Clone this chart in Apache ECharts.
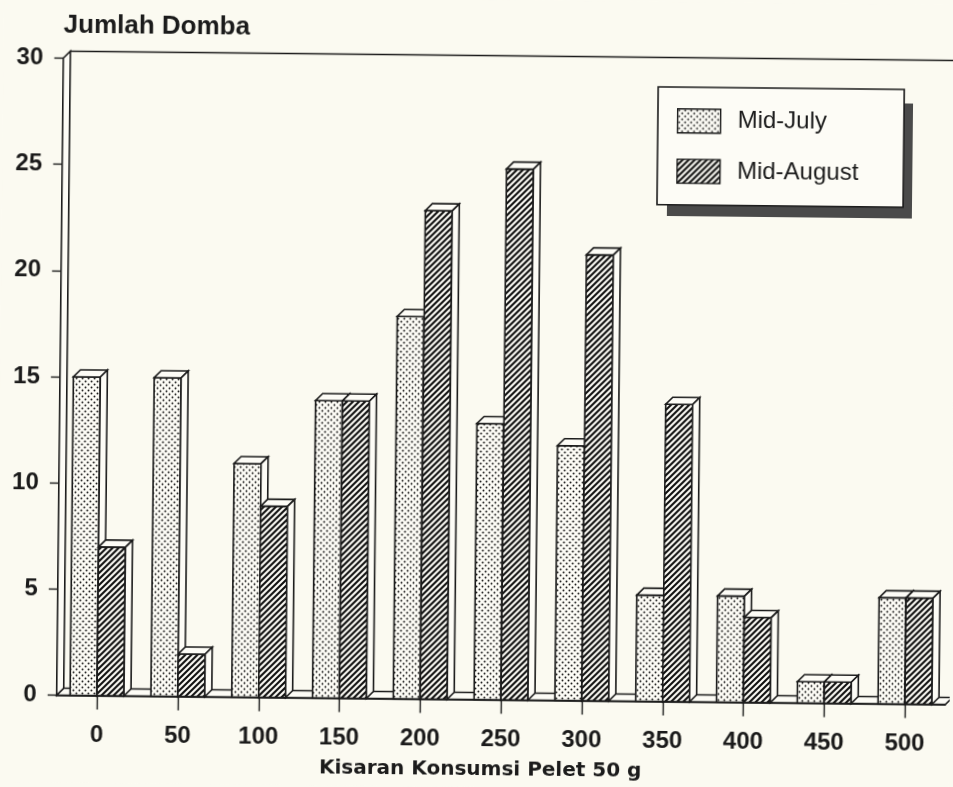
<!DOCTYPE html>
<html>
<head>
<meta charset="utf-8">
<script src="https://cdn.jsdelivr.net/npm/echarts@6/dist/echarts.min.js"></script>
<style>
  html, body { margin: 0; padding: 0; background: #fbfaf1; overflow: hidden; }
  #chart { width: 953px; height: 787px; transform: rotate(0.6deg); transform-origin: 50% 50%; }
</style>
</head>
<body>
<div id="chart"></div>
<script>
// Intake classes (g of pellet) and number of sheep per class
const categories = ['0', '50', '100', '150', '200', '250', '300', '350', '400', '450', '500'];
const midJuly    = [15, 15, 11, 14, 18, 13, 12, 5, 5, 1, 5];
const midAugust  = [7, 2, 9, 14, 23, 25, 21, 14, 4, 1, 5];
const seriesNames = ['Mid-July', 'Mid-August'];
const yAxisTitle = 'Jumlah Domba';
const xAxisTitle = 'Kisaran Konsumsi Pelet 50 g';

const INK = '#1b1b1b';
const PAPER = '#fdfcf6';
const LW = 1.6;
const DX = 7, DY = 7;           // depth offset of the pseudo-3D faces
const FONT = 'Liberation Sans';

// Stippled fill
function dotPattern() {
  const c = document.createElement('canvas');
  c.width = 6; c.height = 6;
  const g = c.getContext('2d');
  g.fillStyle = PAPER; g.fillRect(0, 0, 6, 6);
  g.fillStyle = '#151515';
  [[1.5, 1.5], [4.5, 4.5]].forEach(function (p) {
    g.beginPath(); g.arc(p[0], p[1], 0.95, 0, Math.PI * 2); g.fill();
  });
  return { image: c, repeat: 'repeat' };
}
// Diagonal hatch fill
function hatchPattern() {
  const s = 6;
  const c = document.createElement('canvas');
  c.width = s; c.height = s;
  const g = c.getContext('2d');
  g.fillStyle = PAPER; g.fillRect(0, 0, s, s);
  g.strokeStyle = '#0e0e0e'; g.lineWidth = 2.1;
  g.beginPath();
  g.moveTo(-1, s + 1); g.lineTo(s + 1, -1);
  g.moveTo(-1, 1); g.lineTo(1, -1);
  g.moveTo(s - 1, s + 1); g.lineTo(s + 1, s - 1);
  g.stroke();
  return { image: c, repeat: 'repeat' };
}
const julyFill = dotPattern();
const augustFill = hatchPattern();

function barRenderer(side, fill) {
  return function (params, api) {
    const idx = api.value(0);
    const val = api.value(1);
    const base = api.coord([idx, 0]);
    const top = api.coord([idx, val]);
    const w = api.size([1, 0])[0] / 3;
    const x0 = base[0] + (side === 0 ? -w : 0);
    const x1 = x0 + w;
    const yB = base[1], yT = top[1];
    const edge = { stroke: INK, lineWidth: LW, lineJoin: 'miter' };
    return {
      type: 'group',
      children: [
        { type: 'rect', shape: { x: x0, y: yT, width: w, height: yB - yT },
          style: Object.assign({ fill: fill }, edge) },
        { type: 'polygon', shape: { points: [[x0, yT], [x1, yT], [x1 + DX, yT - DY], [x0 + DX, yT - DY]] },
          style: Object.assign({ fill: PAPER }, edge) },
        { type: 'polygon', shape: { points: [[x1, yT], [x1 + DX, yT - DY], [x1 + DX, yB - DY], [x1, yB]] },
          style: Object.assign({ fill: PAPER }, edge) }
      ]
    };
  };
}

// Floor slab, left wall and back-wall top edge
function frameRenderer(params, api) {
  const cs = params.coordSys;
  const L = cs.x, T = cs.y, R = cs.x + cs.width, B = cs.y + cs.height;
  const edge = { stroke: INK, lineWidth: LW };
  return {
    type: 'group',
    children: [
      { type: 'polygon', shape: { points: [[L, B], [R, B], [R + DX, B - DY], [L + DX, B - DY]] },
        style: Object.assign({ fill: PAPER }, edge) },
      { type: 'polygon', shape: { points: [[L, B], [L, T], [L + DX, T - DY], [L + DX, B - DY]] },
        style: Object.assign({ fill: PAPER }, edge) },
      { type: 'line', shape: { x1: L + DX, y1: T - DY, x2: R + 60, y2: T - DY },
        style: edge }
    ]
  };
}

const chart = echarts.init(document.getElementById('chart'), null, { renderer: 'canvas' });

chart.setOption({
  backgroundColor: '#fbfaf1',
  animation: false,
  grid: { left: 59.8, right: 4.4, top: 62.5, bottom: 87.5, containLabel: false },
  // drop shadow behind the legend box
  graphic: [
    { type: 'rect', z: 3, silent: true,
      shape: { x: 665, y: 99, width: 245, height: 115 },
      style: { fill: '#4a4a4a' } }
  ],
  legend: {
    z: 4,
    orient: 'vertical',
    left: 655, top: 85,
    padding: [21, 45, 21, 19],
    itemWidth: 43, itemHeight: 24, itemGap: 25,
    backgroundColor: PAPER,
    borderColor: INK, borderWidth: 1.6, borderRadius: 0,
    textStyle: { fontFamily: FONT, fontSize: 24, color: INK, padding: [0, 0, 0, 12] },
    selectedMode: false,
    data: [
      { name: seriesNames[0], icon: 'rect', itemStyle: { color: julyFill, borderColor: INK, borderWidth: 1.4 } },
      { name: seriesNames[1], icon: 'rect', itemStyle: { color: augustFill, borderColor: INK, borderWidth: 1.4 } }
    ]
  },
  xAxis: {
    type: 'category',
    data: categories,
    boundaryGap: true,
    axisLine: { show: true, lineStyle: { color: INK, width: LW } },
    axisTick: { show: true, alignWithLabel: true, length: 14, lineStyle: { color: INK, width: 1.4 } },
    axisLabel: { fontFamily: FONT, fontSize: 24, fontWeight: 'bold', color: INK, margin: 28 },
    splitLine: { show: false },
    name: xAxisTitle,
    nameLocation: 'middle',
    nameGap: 70.5,
    nameTextStyle: { fontFamily: 'DejaVu Sans', fontSize: 20, fontWeight: 'bold', color: INK, verticalAlign: 'middle', padding: [0, 40, 0, 0] }
  },
  yAxis: {
    type: 'value',
    min: 0, max: 30, interval: 5,
    axisLine: { show: true, lineStyle: { color: INK, width: LW } },
    axisTick: { show: true, length: 9, lineStyle: { color: INK, width: 1.4 } },
    axisLabel: { fontFamily: FONT, fontSize: 24, fontWeight: 'bold', color: INK, margin: 20, padding: [5, 0, 0, 0] },
    splitLine: { show: false },
    name: yAxisTitle,
    nameLocation: 'end',
    nameGap: 33,
    nameTextStyle: { fontFamily: FONT, fontSize: 26, fontWeight: 'bold', color: INK, align: 'left', verticalAlign: 'middle' }
  },
  series: [
    {
      type: 'custom', name: 'frame', silent: true,
      renderItem: frameRenderer,
      data: [[0, 0]],
      encode: { x: 0, y: 1 }
    },
    {
      type: 'custom', name: seriesNames[0],
      itemStyle: { color: julyFill, borderColor: INK, borderWidth: 1.4 },
      renderItem: barRenderer(0, julyFill),
      data: categories.map(function (c, i) { return [i, midJuly[i]]; }),
      encode: { x: 0, y: 1 }
    },
    {
      type: 'custom', name: seriesNames[1],
      itemStyle: { color: augustFill, borderColor: INK, borderWidth: 1.4 },
      renderItem: barRenderer(1, augustFill),
      data: categories.map(function (c, i) { return [i, midAugust[i]]; }),
      encode: { x: 0, y: 1 }
    }
  ]
});
</script>
</body>
</html>
